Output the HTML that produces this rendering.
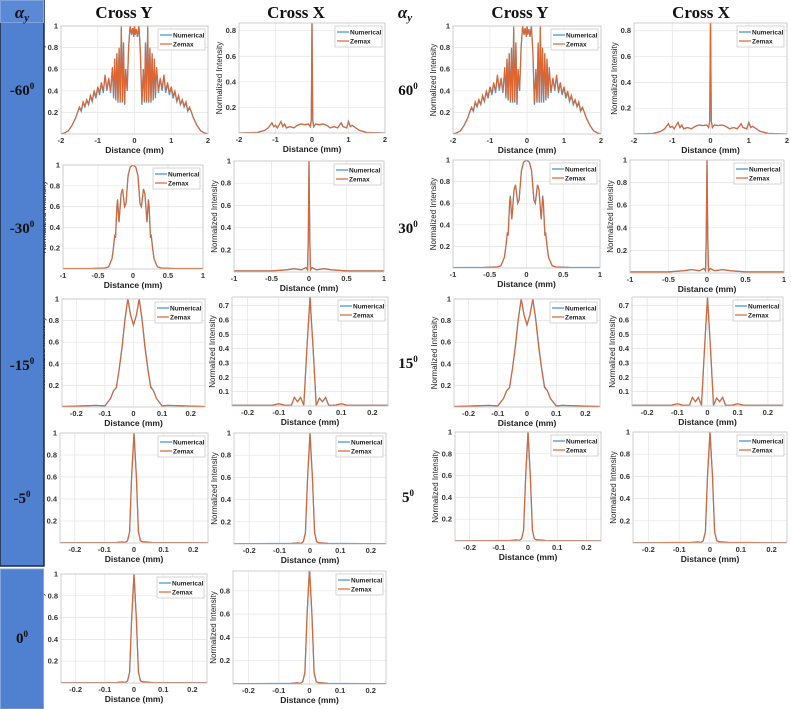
<!DOCTYPE html>
<html><head><meta charset="utf-8">
<style>
html,body{margin:0;padding:0;background:#fff;}
#wrap{position:relative;width:791px;height:709px;overflow:hidden;}
svg text{font-family:"Liberation Sans",sans-serif;}
.hd{font-family:"Liberation Serif",serif;font-weight:bold;font-size:17px;fill:#111;}
.rl{font-family:"Liberation Serif",serif;font-weight:bold;font-size:15px;fill:#111;}
</style></head>
<body>
<div id="wrap">
<svg id="fig" width="791" height="709" viewBox="0 0 791 709" xmlns="http://www.w3.org/2000/svg">
<g id="panels"></g>
<g id="side">
<rect x="0" y="0" width="44" height="566" fill="#4f81d0" stroke="#1e2a40" stroke-width="1.5"/>
<rect x="0.5" y="0.5" width="43" height="22" fill="#5a8ad6" stroke="#7fa4e0" stroke-width="1"/>
<rect x="0.5" y="569" width="43" height="140" fill="#4f81d0" stroke="#7fa4e0" stroke-width="1"/>
</g>
<g>
<text class="hd" x="22" y="18" text-anchor="middle" font-style="italic">α<tspan font-size="11" dy="3">y</tspan></text>
<text class="hd" x="124" y="18" text-anchor="middle">Cross Y</text>
<text class="hd" x="296" y="18" text-anchor="middle">Cross X</text>
<text class="hd" x="405" y="18" text-anchor="middle" font-style="italic">α<tspan font-size="11" dy="3">y</tspan></text>
<text class="hd" x="520" y="18" text-anchor="middle">Cross Y</text>
<text class="hd" x="701" y="18" text-anchor="middle">Cross X</text>
</g>
<g>
<text class="rl" x="22" y="95" text-anchor="middle">-60<tspan font-size="9" dy="-6">0</tspan></text>
<text class="rl" x="22" y="233" text-anchor="middle">-30<tspan font-size="9" dy="-6">0</tspan></text>
<text class="rl" x="22" y="370" text-anchor="middle">-15<tspan font-size="9" dy="-6">0</tspan></text>
<text class="rl" x="22" y="503" text-anchor="middle">-5<tspan font-size="9" dy="-6">0</tspan></text>
<text class="rl" x="22" y="643" text-anchor="middle">0<tspan font-size="9" dy="-6">0</tspan></text>
<text class="rl" x="408" y="95" text-anchor="middle">60<tspan font-size="9" dy="-6">0</tspan></text>
<text class="rl" x="408" y="233" text-anchor="middle">30<tspan font-size="9" dy="-6">0</tspan></text>
<text class="rl" x="408" y="368" text-anchor="middle">15<tspan font-size="9" dy="-6">0</tspan></text>
<text class="rl" x="408" y="502" text-anchor="middle">5<tspan font-size="9" dy="-6">0</tspan></text>
</g>
</svg>
</div>
<script>
// ---- data (distance in mm, normalized intensity) ----
const x60Y = [-2,-1.9,-1.8,-1.7,-1.6,-1.55,-1.5,-1.45,-1.4,-1.35,-1.3,-1.25,-1.2,-1.15,-1.1,-1.05,-1,-0.95,-0.9,-0.85,-0.8,-0.75,-0.7,-0.65,-0.6,-0.57,-0.54,-0.51,-0.48,-0.45,-0.42,-0.39,-0.36,-0.33,-0.3,-0.27,-0.24,-0.2,-0.16,-0.12,-0.08,-0.05,-0.02,0,0.02,0.05,0.08,0.12,0.16,0.2,0.24,0.27,0.3,0.33,0.36,0.39,0.42,0.45,0.48,0.51,0.54,0.57,0.6,0.65,0.7,0.75,0.8,0.85,0.9,0.95,1,1.05,1.1,1.15,1.2,1.25,1.3,1.35,1.4,1.45,1.5,1.55,1.6,1.7,1.8,1.9,2];
const zem60Y = [0,0.01,0.03,0.08,0.15,0.2,0.25,0.22,0.3,0.26,0.32,0.28,0.36,0.31,0.4,0.35,0.44,0.38,0.48,0.4,0.55,0.42,0.52,0.4,0.62,0.35,0.7,0.32,0.75,0.3,0.8,0.3,1.0,0.3,0.85,0.28,0.6,0.4,0.8,1.0,0.92,0.98,0.9,1.0,0.92,0.97,0.9,1.0,0.75,0.28,0.6,0.3,0.85,0.3,1.0,0.3,0.8,0.3,0.75,0.32,0.7,0.35,0.62,0.4,0.52,0.42,0.55,0.4,0.48,0.38,0.44,0.35,0.4,0.31,0.36,0.28,0.32,0.26,0.3,0.22,0.25,0.2,0.15,0.08,0.03,0.01,0];
const num60Y = [0,0.01,0.03,0.08,0.15,0.2,0.24,0.21,0.29,0.25,0.31,0.27,0.35,0.3,0.39,0.33,0.43,0.36,0.47,0.38,0.54,0.4,0.51,0.38,0.61,0.33,0.69,0.31,0.74,0.29,0.79,0.29,0.98,0.29,0.84,0.27,0.6,0.4,0.8,1.0,0.92,0.98,0.9,1.0,0.92,0.97,0.9,1.0,0.75,0.27,0.6,0.29,0.84,0.29,0.98,0.29,0.79,0.29,0.74,0.31,0.69,0.33,0.61,0.38,0.51,0.4,0.54,0.38,0.47,0.36,0.43,0.33,0.39,0.3,0.35,0.27,0.31,0.25,0.29,0.21,0.24,0.2,0.15,0.08,0.03,0.01,0];
const x60X = [-2,-1.5,-1.3,-1.2,-1.1,-1.05,-1,-0.95,-0.85,-0.8,-0.75,-0.7,-0.6,-0.5,-0.4,-0.3,-0.2,-0.1,-0.05,-0.02,0,0.02,0.05,0.1,0.2,0.3,0.4,0.5,0.6,0.7,0.75,0.8,0.85,0.95,1,1.05,1.1,1.2,1.3,1.5,2];
const zem60X = [0,0.005,0.02,0.04,0.08,0.05,0.06,0.04,0.09,0.05,0.07,0.04,0.05,0.04,0.06,0.07,0.065,0.07,0.05,0.1,0.9,0.1,0.05,0.07,0.065,0.07,0.06,0.04,0.05,0.04,0.06,0.08,0.05,0.04,0.09,0.05,0.06,0.04,0.02,0.005,0];
const num60X = zem60X.slice();
const x30Y = [-1,-0.6,-0.4,-0.35,-0.33,-0.3,-0.28,-0.26,-0.25,-0.23,-0.22,-0.2,-0.17,-0.15,-0.12,-0.1,-0.07,-0.04,0,0.04,0.07,0.1,0.12,0.15,0.17,0.2,0.22,0.23,0.25,0.26,0.28,0.3,0.33,0.35,0.4,0.6,1];
const zem30Y = [0.005,0.005,0.01,0.02,0.05,0.1,0.2,0.33,0.3,0.6,0.66,0.45,0.72,0.77,0.6,0.63,0.9,0.98,1.0,0.98,0.9,0.63,0.6,0.77,0.72,0.45,0.66,0.6,0.3,0.33,0.2,0.1,0.05,0.02,0.01,0.005,0.005];
const num30Y = [0.005,0.005,0.01,0.02,0.05,0.1,0.2,0.33,0.3,0.6,0.67,0.45,0.72,0.77,0.6,0.63,0.9,0.98,1.0,0.98,0.9,0.63,0.6,0.77,0.72,0.45,0.67,0.6,0.3,0.33,0.2,0.1,0.05,0.02,0.01,0.005,0.005];
const x30X = [-1,-0.5,-0.3,-0.2,-0.1,-0.04,-0.02,-0.01,0,0.01,0.02,0.04,0.1,0.2,0.3,0.5,1];
const zem30X = [0.01,0.01,0.02,0.03,0.02,0.04,0.02,0.3,1.0,0.3,0.02,0.04,0.02,0.03,0.02,0.01,0.01];
const num30X = zem30X.slice();
const x15Y = [-0.25,-0.13,-0.1,-0.08,-0.07,-0.06,-0.05,-0.04,-0.03,-0.02,-0.01,0,0.01,0.02,0.03,0.04,0.05,0.06,0.07,0.08,0.1,0.12,0.25];
const zem15Y = [0.005,0.015,0.01,0.08,0.15,0.18,0.35,0.55,0.8,1.0,0.85,0.76,0.85,1.0,0.8,0.55,0.35,0.18,0.15,0.08,0.01,0.015,0.005];
const num15Y = [0.005,0.015,0.01,0.08,0.15,0.18,0.35,0.56,0.81,1.0,0.85,0.76,0.85,1.0,0.81,0.57,0.36,0.19,0.15,0.08,0.01,0.015,0.005];
const x15X = [-0.25,-0.12,-0.1,-0.08,-0.06,-0.05,-0.04,-0.03,-0.02,-0.01,0,0.01,0.02,0.03,0.04,0.05,0.06,0.08,0.1,0.12,0.25];
const zem15X = [0.005,0.005,0.015,0.005,0.005,0.06,0.03,0.06,0.005,0.4,0.76,0.4,0.005,0.055,0.03,0.06,0.005,0.005,0.015,0.005,0.005];
const num15X = zem15X.slice();
const x5 = [-0.25,-0.06,-0.04,-0.03,-0.022,-0.015,-0.008,0,0.008,0.015,0.022,0.03,0.04,0.06,0.25];
const zem5 = [0.002,0.005,0.01,0.005,0.02,0.1,0.6,1.0,0.6,0.1,0.02,0.01,0.01,0.005,0.002];
const num5 = zem5.slice();
// tick label arrays
const ticks2 = [-2,-1,0,1,2];
const ticks1 = [-1,-0.5,0,0.5,1];
const ticks025 = [-0.2,-0.1,0,0.1,0.2];
const yticks1 = [0.2,0.4,0.6,0.8,1];
const yticks08 = [0.2,0.4,0.6,0.8];
const yticks07 = [0.1,0.2,0.3,0.4,0.5,0.6,0.7];

const profiles = {
  p60Y:[x60Y,num60Y,zem60Y], p60X:[x60X,num60X,zem60X],
  p30Y:[x30Y,num30Y,zem30Y], p30X:[x30X,num30X,zem30X],
  p15Y:[x15Y,num15Y,zem15Y], p15X:[x15X,num15X,zem15X],
  p5:[x5,num5,zem5]
};
const panels = [
 ['r1-left-cross-y',[61,26,208,134],[-2,2],ticks2,1,yticks1,'p60Y'],
 ['r1-left-cross-x',[239,23,385,133],[-2,2],ticks2,0.86,yticks08,'p60X'],
 ['r2-left-cross-y',[63,165,203,269],[-1,1],ticks1,1,yticks1,'p30Y'],
 ['r2-left-cross-x',[234,161,384,272],[-1,1],ticks1,1,yticks1,'p30X'],
 ['r3-left-cross-y',[62,299,205,407],[-0.25,0.25],ticks025,1,yticks1,'p15Y'],
 ['r3-left-cross-x',[232,297,388,406],[-0.25,0.25],ticks025,0.76,yticks07,'p15X'],
 ['r4-left-cross-y',[60,433,208,543],[-0.25,0.25],ticks025,1,yticks1,'p5'],
 ['r4-left-cross-x',[234,433,386,544],[-0.25,0.25],ticks025,1,yticks1,'p5'],
 ['r5-left-cross-y',[61,574,207,683],[-0.25,0.25],ticks025,1,yticks1,'p5'],
 ['r5-left-cross-x',[233,571,386,684],[-0.25,0.25],ticks025,0.97,yticks08,'p5'],
 ['r1-right-cross-y',[453,26,601,134],[-2,2],ticks2,1,yticks1,'p60Y'],
 ['r1-right-cross-x',[634,23,787,134],[-2,2],ticks2,0.86,yticks08,'p60X'],
 ['r2-right-cross-y',[453,160,600,268],[-1,1],ticks1,1,yticks1,'p30Y'],
 ['r2-right-cross-x',[630,160,784,273],[-1,1],ticks1,1,yticks1,'p30X'],
 ['r3-right-cross-y',[454,299,600,407],[-0.25,0.25],ticks025,1,yticks1,'p15Y'],
 ['r3-right-cross-x',[632,297,783,406],[-0.25,0.25],ticks025,0.76,yticks07,'p15X'],
 ['r4-right-cross-y',[455,432,601,541],[-0.25,0.25],ticks025,1,yticks1,'p5'],
 ['r4-right-cross-x',[633,432,787,543],[-0.25,0.25],ticks025,1,yticks1,'p5']
];
const NS='http://www.w3.org/2000/svg';
const root=document.getElementById('panels');
function mk(tag,attrs,parent){const e=document.createElementNS(NS,tag);for(const k in attrs)e.setAttribute(k,attrs[k]);parent.appendChild(e);return e;}
panels.forEach(p=>{
  const [name,b,xr,xt,ymax,yt,prof]=p;
  const [x0,y0,x1,y1]=b;
  const sx=v=>x0+(v-xr[0])/(xr[1]-xr[0])*(x1-x0);
  const sy=v=>y1-v/ymax*(y1-y0);
  const g=mk('g',{},root);
  
  
  mk('rect',{x:x0,y:y0,width:x1-x0,height:y1-y0,fill:'#fff'},g);
  xt.forEach(t=>{const X=sx(t);
    const l=mk('line',{x1:X,x2:X,y1:y0,y2:y1,stroke:'#e4e4e4','stroke-width':0.7},g);
    
    
    if(X<=x1+1){const tx=mk('text',{x:X,y:y1+9,'text-anchor':'middle','font-size':7.5,'font-weight':'bold',fill:'#333'},g);tx.textContent=String(t);
    
    }
  });
  yt.forEach(t=>{const Y=sy(t);
    const l=mk('line',{x1:x0,x2:x1,y1:Y,y2:Y,stroke:'#e4e4e4','stroke-width':0.7},g);
    
    
    const tx=mk('text',{x:x0-3,y:Y+2.5,'text-anchor':'end','font-size':7.5,'font-weight':'bold',fill:'#333'},g);tx.textContent=String(t);
    
    
  });
  const [xs,num,zem]=profiles[prof];
  const clip='c'+name;
  const cp=mk('clipPath',{id:clip},g);mk('rect',{x:x0,y:y0,width:x1-x0,height:y1-y0},cp);
  const pts=a=>a.map((v,i)=>sx(xs[i]).toFixed(1)+','+sy(v).toFixed(1)).join(' ');
  const ln=mk('polyline',{points:pts(num),fill:'none',stroke:'#4a9bd6','stroke-width':1.3,'clip-path':'url(#'+clip+')'},g);
  
  
  const lz=mk('polyline',{points:pts(zem),fill:'none',stroke:'#e0642d','stroke-width':1.1,'clip-path':'url(#'+clip+')'},g);
  
  
  mk('rect',{x:x0,y:y0,width:x1-x0,height:y1-y0,fill:'none',stroke:'#c4c4c4','stroke-width':0.8},g);
  const lg=mk('g',{},g);
  
  
  const lw=47,lh=21,lx=x1-lw-3,ly=y0+3;
  mk('rect',{x:lx,y:ly,width:lw,height:lh,fill:'#fff',stroke:'#c4c4c4','stroke-width':0.7},lg);
  mk('line',{x1:lx+2,x2:lx+14,y1:ly+6,y2:ly+6,stroke:'#3d8ed0','stroke-width':1.2},lg);
  mk('line',{x1:lx+2,x2:lx+14,y1:ly+15,y2:ly+15,stroke:'#e0642d','stroke-width':1.2},lg);
  const t1=mk('text',{x:lx+15,y:ly+8.5,'font-size':6.5,'font-weight':'bold',fill:'#222'},lg);t1.textContent='Numerical';
  
  
  const t2=mk('text',{x:lx+15,y:ly+17.5,'font-size':6.5,'font-weight':'bold',fill:'#222'},lg);t2.textContent='Zemax';
  
  
  const xl=mk('text',{x:(x0+x1)/2,y:y1+19,'text-anchor':'middle','font-size':8.5,'font-weight':'bold',fill:'#222'},g);xl.textContent='Distance (mm)';
  
  
  const yx=x0-17,yy=(y0+y1)/2;
  const yl=mk('text',{x:yx,y:yy,'text-anchor':'middle','font-size':8,fill:'#222',transform:'rotate(-90 '+yx+' '+yy+')'},g);yl.textContent='Normalized Intensity';
  
  
});
</script>
</body></html>
